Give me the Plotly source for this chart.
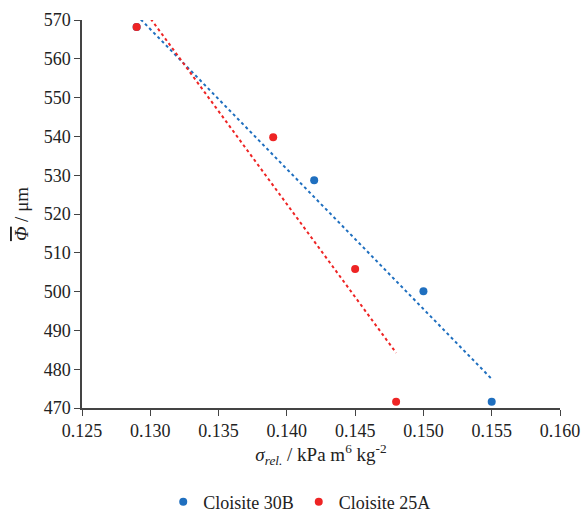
import numpy as np
import plotly.graph_objects as go

# Data
x_30b = [0.129, 0.142, 0.150, 0.155]
y_30b = [568.2, 528.7, 500.1, 471.6]
x_25a = [0.129, 0.139, 0.145, 0.148]
y_25a = [568.2, 539.8, 505.8, 471.6]

blue = "#1f6fbf"
red = "#ee2424"
FONT = "Liberation Serif"

fig = go.Figure()

def trend(xs, ys):
    m, b = np.polyfit(xs, ys, 1)
    xt = np.linspace(min(xs), max(xs), 50)
    return xt, m * xt + b

xt, yt = trend(x_30b, y_30b)
fig.add_trace(go.Scatter(x=xt, y=yt, mode="lines", showlegend=False,
                         line=dict(color=blue, width=2, dash="dot"), hoverinfo="skip"))
xt, yt = trend(x_25a, y_25a)
fig.add_trace(go.Scatter(x=xt, y=yt, mode="lines", showlegend=False,
                         line=dict(color=red, width=2, dash="dot"), hoverinfo="skip"))

fig.add_trace(go.Scatter(x=x_30b, y=y_30b, mode="markers", name="Cloisite 30B",
                         marker=dict(color=blue, size=8)))
fig.add_trace(go.Scatter(x=x_25a, y=y_25a, mode="markers", name="Cloisite 25A",
                         marker=dict(color=red, size=8)))

fig.update_layout(
    width=582, height=513,
    margin=dict(l=82, r=22, t=20, b=105, autoexpand=False),
    plot_bgcolor="white", paper_bgcolor="white",
    font=dict(family=FONT, size=18, color="#222222"),
    showlegend=True,
    legend=dict(orientation="h", xref="container", x=0.515, xanchor="center",
                y=-0.195, yanchor="top", itemwidth=30,
                font=dict(family=FONT, size=18), itemsizing="trace"),
    xaxis=dict(range=[0.125, 0.160], dtick=0.005, tickformat=".3f", automargin=False,
               showgrid=False, zeroline=False, showline=True, linecolor="#444444",
               linewidth=1.5, ticks="outside", ticklen=6, tickcolor="#444444",
               title=dict(text="<i>σ</i><sub><i>rel.</i></sub> / kPa m<sup>6</sup> kg<sup>-2</sup>",
                          font=dict(family=FONT, size=19), standoff=4)),
    yaxis=dict(range=[470, 570], dtick=10, automargin=False,
               showgrid=False, zeroline=False, showline=True, linecolor="#444444",
               linewidth=1.5, ticks="outside", ticklen=6, tickcolor="#444444",
               title=dict(text="<span style='text-decoration:overline'><i>Φ</i></span> / μm",
                          font=dict(family=FONT, size=19), standoff=10)),
)

fig.write_html("out.html", config={"displayModeBar": False},
               post_script="document.body.style.margin='0';document.body.style.padding='0';")
